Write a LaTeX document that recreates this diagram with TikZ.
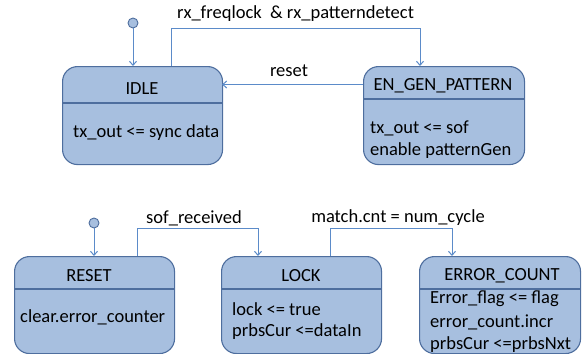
\documentclass[tikz,border=0pt]{standalone}
\usepackage{fontspec}
\setmainfont{Carlito}
\usetikzlibrary{arrows.meta}
\definecolor{statefill}{HTML}{A7BFDF}
\definecolor{stateborder}{HTML}{4E6E9E}
\definecolor{connline}{HTML}{5B8BC9}
\tikzset{
  statebox/.style={draw=stateborder, fill=statefill, line width=1.1pt, rounded corners=15pt, anchor=north west, inner sep=0pt},
  divider/.style={draw=stateborder, line width=1.1pt},
  conn/.style={draw=connline, line width=1pt},
  connarrow/.style={conn, -{Straight Barb[length=4pt,width=7pt]}},
  initdot/.style={circle, draw=stateborder, fill=statefill, line width=0.9pt, minimum size=10pt, inner sep=0pt},
  lbl/.style={font=\fontsize{18.5}{22}\selectfont, inner sep=0pt},
  body/.style={lbl, anchor=west, align=left},
}
\begin{document}
\begin{tikzpicture}[x=1pt,y=-1pt]
\useasboundingbox (0,0) rectangle (582,354);
% states
\node[statebox, minimum width=160pt, minimum height=98pt] (idle) at (62,66) {};
\draw[divider] (62,103) -- (222,103);
\node[lbl] (idleT) at (142,89) {IDLE};
\node[body] (idleB) at (73,133) {tx\_out <= sync data};

\node[statebox, minimum width=161pt, minimum height=98pt] (en) at (363,66) {};
\draw[divider] (363,99) -- (524,99);
\node[lbl] (enT) at (443,86) {EN\_GEN\_PATTERN};
\node[body] (enB1) at (370,128) {tx\_out <= sof};
\node[body] (enB2) at (370,151) {enable patternGen};

\node[statebox, minimum width=160pt, minimum height=97pt] (rst) at (14,256) {};
\draw[divider] (14,289) -- (174,289);
\node[lbl] (rstT) at (89,276) {RESET};
\node[body] (rstB) at (20,317) {clear.error\_counter};

\node[statebox, minimum width=160pt, minimum height=97pt] (lock) at (221,256) {};
\draw[divider] (221,289) -- (381,289);
\node[lbl] (lockT) at (301,276) {LOCK};
\node[body] (lockB1) at (232,309) {lock <= true};
\node[body] (lockB2) at (232,332) {prbsCur <=dataIn};

\node[statebox, minimum width=161pt, minimum height=97pt] (err) at (419,256) {};
\draw[divider] (419,289) -- (580,289);
\node[lbl] (errT) at (502,276) {ERROR\_COUNT};
\node[body] (errB1) at (430,299) {Error\_flag <= flag};
\node[body] (errB2) at (430,322) {error\_count.incr};
\node[body] (errB3) at (430,345) {prbsCur <=prbsNxt};

% initial dots
\node[initdot] (init1) at (133,23) {};
\node[initdot] (init2) at (94,223) {};
\draw[connarrow] (init1) -- (init1 |- idle.north);
\draw[connarrow] (init2) -- (init2 |- rst.north);

% transitions
\coordinate (a1) at (171,28);
\coordinate (a2) at (420,28);
\draw[connarrow] (idle.north -| a1) -- (a1) -- (a2) -- (en.north -| a2);
\node[lbl] (t1) at (295.5,14) {rx\_freqlock\ \ \& rx\_patterndetect};

\coordinate (r1) at (363,84.5);
\coordinate (r2) at (222,84.5);
\draw[connarrow] (r1) -- (r2);
\node[lbl] (t2) at (289,71) {reset};

\coordinate (b1) at (137,228);
\coordinate (b2) at (258,228);
\draw[connarrow] (rst.north -| b1) -- (b1) -- (b2) -- (lock.north -| b2);
\node[lbl] (t3) at (194,218) {sof\_received};

\coordinate (c1) at (330,228);
\coordinate (c2) at (452,228);
\draw[connarrow] (lock.north -| c1) -- (c1) -- (c2) -- (err.north -| c2);
\node[lbl] (t4) at (398,218) {match.cnt = num\_cycle};
\end{tikzpicture}
\end{document}
